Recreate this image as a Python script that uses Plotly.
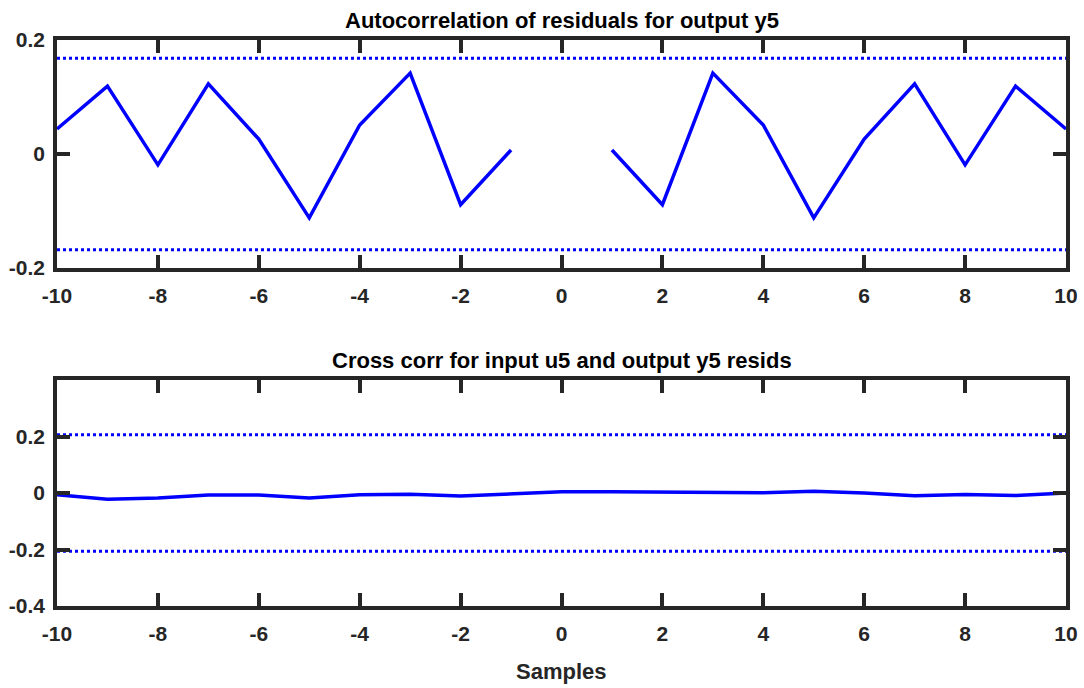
import plotly.graph_objects as go

# Lags
lags = list(range(-10, 11))

# Autocorrelation of residuals (lag 0 omitted)
auto_corr = [0.044, 0.119, -0.019, 0.123, 0.026, -0.112, 0.051, 0.142, -0.089, 0.007,
             None,
             0.007, -0.089, 0.142, 0.051, -0.112, 0.026, 0.123, -0.019, 0.119, 0.044]
auto_conf = 0.168

# Cross correlation between input u5 and output y5 residuals
cross_corr = [-0.006, -0.022, -0.018, -0.007, -0.007, -0.018, -0.006, -0.004, -0.011, -0.004,
              0.004, 0.004, 0.004, 0.001, 0.001, 0.006, 0.0, -0.010, -0.005, -0.009, 0.0]
cross_conf = 0.206

x_ticks = list(range(-10, 11, 2))
x_ticktext = [str(v) for v in x_ticks]
top_yticks = [-0.2, 0, 0.2]
top_yticktext = ["-0.2", "0", "0.2"]
bot_yticks = [-0.4, -0.2, 0, 0.2]
bot_yticktext = ["-0.4", "-0.2", "0", "0.2"]

FONT = "Liberation Sans Narrow, Arial Narrow, Liberation Sans, Arial"
AXC = "#262626"
BLUE = "#0000ff"

fig = go.Figure()

# Top panel
fig.add_trace(go.Scatter(x=lags, y=auto_corr, mode="lines", line=dict(color=BLUE, width=3.5),
                         connectgaps=False, xaxis="x", yaxis="y", showlegend=False))
for s in (1, -1):
    fig.add_trace(go.Scatter(x=[lags[0], lags[-1]], y=[s * auto_conf] * 2, mode="lines",
                             line=dict(color=BLUE, width=3, dash="dot"),
                             xaxis="x", yaxis="y", showlegend=False))

# Bottom panel
fig.add_trace(go.Scatter(x=lags, y=cross_corr, mode="lines", line=dict(color=BLUE, width=3.5),
                         xaxis="x2", yaxis="y2", showlegend=False))
for s in (1, -1):
    fig.add_trace(go.Scatter(x=[lags[0], lags[-1]], y=[s * cross_conf] * 2, mode="lines",
                             line=dict(color=BLUE, width=3, dash="dot"),
                             xaxis="x2", yaxis="y2", showlegend=False))

tick_font = dict(family=FONT, size=21, color=AXC, weight="bold")
axis_common = dict(showline=True, linecolor=AXC, linewidth=3.5, mirror="ticks",
                   ticks="inside", ticklen=13, tickwidth=3.5, tickcolor=AXC,
                   showgrid=False, zeroline=False, automargin=False,
                   tickfont=tick_font)

xdom = [57 / 1084, 1066 / 1084]
title_font = dict(family=FONT, size=22, color="black", weight="bold")
fig.update_layout(
    width=1084, height=688,
    margin=dict(l=0, r=0, t=0, b=0),
    plot_bgcolor="white", paper_bgcolor="white",
    xaxis=dict(domain=xdom, range=[-10, 10], tickvals=x_ticks, ticktext=x_ticktext,
               anchor="y", ticklabelstandoff=6, **axis_common),
    yaxis=dict(domain=[1 - 268 / 688, 1 - 40 / 688], range=[-0.2, 0.2], tickvals=top_yticks,
               ticktext=top_yticktext, anchor="x", ticklabelstandoff=4, **axis_common),
    xaxis2=dict(domain=xdom, range=[-10, 10], tickvals=x_ticks, ticktext=x_ticktext,
                anchor="y2", ticklabelstandoff=6, **axis_common),
    yaxis2=dict(domain=[1 - 606 / 688, 1 - 380 / 688], range=[-0.4, 0.4], tickvals=bot_yticks,
                ticktext=bot_yticktext, anchor="x2", ticklabelstandoff=4, **axis_common),
    annotations=[
        dict(text="Autocorrelation of residuals for output y5", x=0.5 * (xdom[0] + xdom[1]),
             y=1 - 20 / 688, xref="paper", yref="paper", showarrow=False,
             font=title_font, xanchor="center", yanchor="middle"),
        dict(text="Cross corr for input u5 and output y5 resids", x=0.5 * (xdom[0] + xdom[1]),
             y=1 - 360 / 688, xref="paper", yref="paper", showarrow=False,
             font=title_font, xanchor="center", yanchor="middle"),
        dict(text="Samples", x=0.5 * (xdom[0] + xdom[1]),
             y=1 - 671 / 688, xref="paper", yref="paper", showarrow=False,
             font=dict(family=FONT, size=22, color=AXC, weight="bold"),
             xanchor="center", yanchor="middle"),
    ],
)

fig.write_html("out.html")
